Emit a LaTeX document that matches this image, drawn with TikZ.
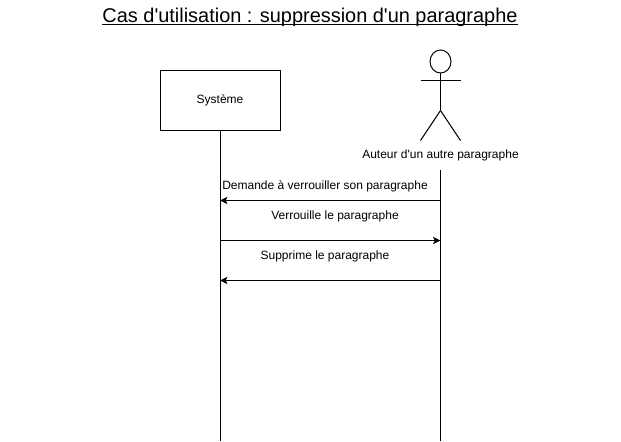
\documentclass[tikz,border=0pt]{standalone}
\usepackage{fontspec}
\setmainfont{Liberation Sans}
\usetikzlibrary{arrows.meta}
\tikzset{
 x=0.75pt,y=-0.75pt,
 life/.style={draw=black,line width=0.75pt},
 msg/.style={draw=black,line width=0.75pt,-{Stealth[length=5.6pt,width=5.4pt,inset=1.3pt]}},
 lbl/.style={font=\fontsize{9pt}{11pt}\selectfont,inner sep=0pt,text=black},
 body/.style={draw=black,line width=0.75pt}
}
\newcommand{\sq}{\textquotesingle}
\begin{document}
\begin{tikzpicture}
\useasboundingbox (0,0) rectangle (621,442);
\fill[white] (0,0) rectangle (621,442);
\node[inner sep=0pt,text depth=0pt,font=\fontsize{14.95pt}{18pt}\selectfont] (title) at (310,15.5) {Cas d\sq utilisation : suppression d\sq un paragraphe};
\draw[line width=0.9pt] ([yshift=-1.2pt]title.south west) -- ([yshift=-1.2pt]title.south east);
\node[draw=black,line width=0.75pt,minimum width=90pt,minimum height=45pt,inner sep=0pt,lbl] (sys) at (220,100.5) {Système};
\coordinate (sysend) at (220,440.5);
\draw[life] (sys.south) -- (sysend);
\coordinate (neck) at (440.5,73);
\coordinate (hip) at (440.5,110.5);
\draw[body] (440.5,61.5) circle (10.5 and 11.5);
\draw[body] (neck) -- (hip);
\draw[body] (420.5,80.5) -- (460.5,80.5);
\draw[body] (hip) -- (420.5,140.5);
\draw[body] (hip) -- (460.5,140.5);
\node[lbl] (act) at (440.5,155) {Auteur d\sq un autre paragraphe};
\coordinate (acttop) at (440.5,170.5);
\coordinate (actend) at (440.5,440.5);
\draw[life] (acttop) -- (actend);
\coordinate (s1) at (220,200.5);\coordinate (a1) at (440.5,200.5);
\coordinate (s2) at (220,240.5);\coordinate (a2) at (440.5,240.5);
\coordinate (s3) at (220,280.5);\coordinate (a3) at (440.5,280.5);
\draw[msg] (a1) -- (s1);
\draw[msg] (s2) -- (a2);
\draw[msg] (a3) -- (s3);
\node[lbl] (m1) at (325,186) {Demande à verrouiller son paragraphe};
\node[lbl] (m2) at (335,216) {Verrouille le paragraphe};
\node[lbl] (m3) at (325,256) {Supprime le paragraphe};
\end{tikzpicture}
\end{document}
